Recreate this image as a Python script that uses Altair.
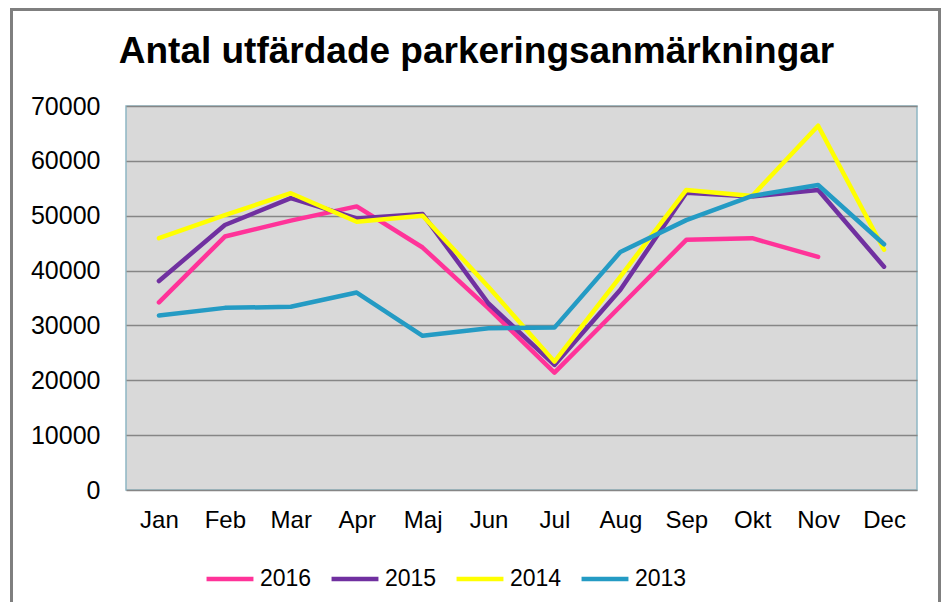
import altair as alt
import pandas as pd

months = ["Jan", "Feb", "Mar", "Apr", "Maj", "Jun", "Jul", "Aug", "Sep", "Okt", "Nov", "Dec"]
years = ["2016", "2015", "2014", "2013"]
v2016 = [34200, 46200, 49100, 51700, 44200, 33100, 21400, 33500, 45600, 45900, 42500, None]
v2015 = [38100, 48300, 53200, 49500, 50300, 34000, 22800, 36500, 54200, 53500, 54700, 40700]
v2014 = [45900, 50100, 54100, 48900, 50000, 37000, 23400, 38900, 54700, 53600, 66400, 43800]
v2013 = [31800, 33200, 33400, 36000, 28100, 29500, 29600, 43400, 49200, 53600, 55600, 44800]
colors = ["#FF3399", "#7030A0", "#FFFF00", "#249BC4"]
title_text = "Antal utfärdade parkeringsanmärkningar"

series = dict(zip(years, [v2016, v2015, v2014, v2013]))
rows = []
for y in years:
    for m, v in zip(months, series[y]):
        if v is not None:
            rows.append({"Månad": m, "År": y, "Antal": v})
df = pd.DataFrame(rows)

FONT = "Liberation Sans"

color_scale = alt.Scale(domain=years, range=colors)
x_enc = alt.X("Månad:N", sort=months, scale=alt.Scale(domain=months),
              axis=alt.Axis(title=None, labelAngle=0, ticks=False, domain=False,
                            labelFontSize=24, labelFont=FONT, labelColor="#000000",
                            labelPadding=18))
y_enc = alt.Y("Antal:Q", scale=alt.Scale(domain=[0, 70000], nice=False),
              axis=alt.Axis(title=None, values=list(range(0, 70001, 10000)), format="d",
                            ticks=False, domain=False, grid=True, gridColor="#868686",
                            gridWidth=1.5, labelFontSize=25, labelFont=FONT,
                            labelColor="#000000", labelPadding=26))

layers = []
for i, y in enumerate(years):
    enc = dict(x=x_enc, y=y_enc,
               color=alt.Color("År:N", scale=color_scale,
                               legend=alt.Legend(title=None, orient="none", direction="horizontal",
                                                 legendX=78, legendY=447, symbolType="stroke",
                                                 symbolSize=2200, symbolStrokeWidth=4.5,
                                                 labelFontSize=23, labelFont=FONT,
                                                 labelColor="#000000", labelOffset=4,
                                                 columnPadding=10)) if i == 0 else
               alt.Color("År:N", scale=color_scale))
    layers.append(
        alt.Chart(df).transform_filter(alt.datum["År"] == y)
        .mark_line(strokeWidth=4.5, strokeCap="round", strokeJoin="round")
        .encode(**enc)
    )

one = pd.DataFrame({"t": [title_text]})
title = alt.Chart(one).mark_text(font=FONT, fontSize=37, fontWeight="bold", color="#000000",
                                 align="center", baseline="alphabetic").encode(
    text="t:N", x=alt.value(350.5), y=alt.value(-43))
frame = alt.Chart(one).mark_rect(filled=False, stroke="#7F7F7F", strokeWidth=3).encode(
    x=alt.value(-114.5), x2=alt.value(813.5), y=alt.value(-96.5), y2=alt.value(600))

chart = alt.layer(frame, *layers, title).properties(
    width=791, height=384,
    padding={"left": 118, "top": 98, "right": 24, "bottom": 112},
    autosize=alt.AutoSizeParams(type="none"),
    background="#FFFFFF",
).configure_view(fill="#D9D9D9", stroke="#8FB6C4", strokeWidth=1.5)

chart.save("out.html", embed_options={"renderer": "svg", "actions": False})
